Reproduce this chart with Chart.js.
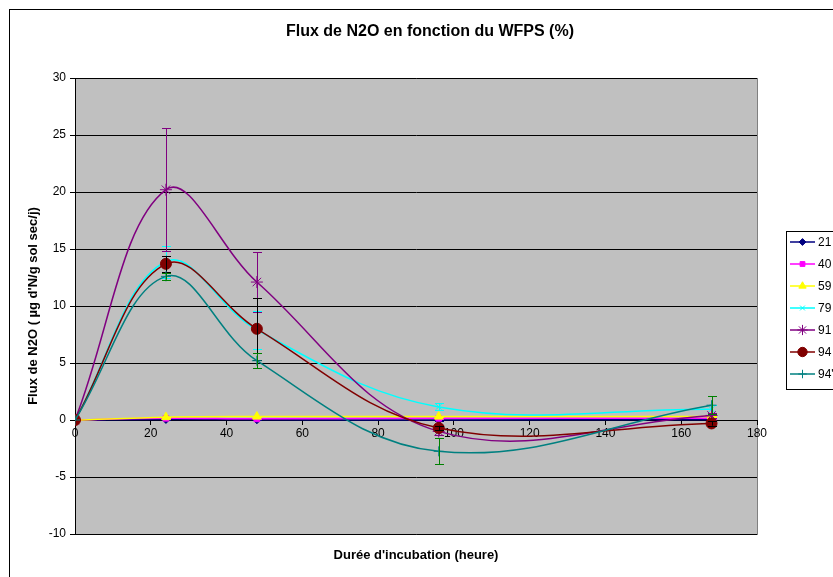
<!DOCTYPE html>
<html>
<head>
<meta charset="utf-8">
<title>Flux de N2O en fonction du WFPS (%)</title>
<script src="https://cdn.jsdelivr.net/npm/chart.js@4.4.1/dist/chart.umd.min.js"></script>
<style>
  html, body { margin: 0; padding: 0; background: #ffffff; }
  #wrap { width: 833px; height: 577px; }
</style>
</head>
<body>
<div id="wrap"><canvas id="c" width="833" height="577"></canvas></div>
<script>
// Sampling times (hours of incubation)
const hours = [0, 24, 48, 96, 168];

// WFPS treatments (%)
const seriesNames = ['21', '40', '59', '79', '91', '94', "94'"];

// Mean N2O flux (µg N/g dry soil/day) per treatment
const flux21 = [0, 0.05, 0.02, 0.0, 0.03];
const flux40 = [0, 0.15, 0.1, 0.15, 0.15];
const flux59 = [0, 0.25, 0.3, 0.3, 0.3];
const flux79 = [0, 13.9, 7.9, 1.15, 0.95];
const flux91 = [0, 20.2, 12.1, -1.0, 0.4];
const flux94 = [0, 13.7, 8.0, -0.7, -0.3];
const flux94b = [0, 12.6, 5.2, -2.75, 1.3];

// Standard error (±) per treatment
const err21 = [0, 0.05, 0.05, 0.05, 0.05];
const err40 = [0, 0.05, 0.05, 0.05, 0.05];
const err59 = [0, 0.05, 0.05, 0.05, 0.05];
const err79 = [0, 1.4, 1.7, 0.3, 0.35];
const err91 = [0, 5.4, 2.6, 0.3, 0.2];
const err94 = [0, 0.7, 2.7, 0.2, 0.2];
const err94b = [0, 0.3, 0.65, 1.15, 0.8];

// Axis ticks
const xTicks = [0, 20, 40, 60, 80, 100, 120, 140, 160, 180];
const yTicks = [-10, -5, 0, 5, 10, 15, 20, 25, 30];

const FONT = '"Liberation Sans", Arial, sans-serif';

const styles = [
  { color: '#000080', err: '#000080', point: 'rectRot', radius: 4 },
  { color: '#FF00FF', err: '#FF00FF', point: 'rect', radius: 4 },
  { color: '#FFFF00', err: '#FFFF00', point: 'triangle', radius: 5 },
  { color: '#00FFFF', err: '#00FFFF', point: 'crossRot', radius: 4 },
  { color: '#800080', err: '#800080', point: 'star', radius: 6 },
  { color: '#800000', err: '#000000', point: 'circle', radius: 5.5 },
  { color: '#008080', err: '#008000', point: 'cross', radius: 5 }
];

const fluxes = [flux21, flux40, flux59, flux79, flux91, flux94, flux94b];
const errors = [err21, err40, err59, err79, err91, err94, err94b];

const datasets = seriesNames.map((name, i) => ({
  label: name,
  data: hours.map((h, j) => ({ x: h, y: fluxes[i][j] })),
  errors: errors[i],
  errColor: styles[i].err,
  borderColor: styles[i].color,
  backgroundColor: styles[i].color,
  pointBackgroundColor: styles[i].color,
  pointBorderColor: styles[i].color,
  pointStyle: styles[i].point,
  pointRadius: styles[i].radius,
  pointBorderWidth: 1,
  borderWidth: 1.5,
  tension: 0.38,
  fill: false,
  order: seriesNames.length - 1 - i
}));

// Grey plot area and outer frame
const backdrop = {
  id: 'backdrop',
  beforeDraw(chart) {
    const { ctx, chartArea: a } = chart;
    ctx.save();
    ctx.fillStyle = '#ffffff';
    ctx.fillRect(0, 0, chart.width, chart.height);
    ctx.strokeStyle = '#000000';
    ctx.lineWidth = 1;
    ctx.strokeRect(9.5, 9.5, chart.width + 20, chart.height + 20);
    ctx.fillStyle = '#C0C0C0';
    ctx.fillRect(a.left, a.top, a.right - a.left, a.bottom - a.top);
    ctx.strokeStyle = '#808080';
    ctx.strokeRect(a.left + 0.5, a.top + 0.5, a.right - a.left, a.bottom - a.top);
    ctx.restore();
  }
};

// Vertical error bars drawn with each series
const errorBars = {
  id: 'errorBars',
  afterDatasetDraw(chart, args) {
    const ds = chart.data.datasets[args.index];
    const xs = chart.scales.x, ys = chart.scales.y;
    const ctx = chart.ctx;
    ctx.save();
    ctx.strokeStyle = ds.errColor;
    ctx.lineWidth = 1;
    ds.data.forEach((p, j) => {
      const e = ds.errors[j];
      if (!e) return;
      const x = Math.round(xs.getPixelForValue(p.x)) + 0.5;
      const yTop = ys.getPixelForValue(p.y + e);
      const yBot = ys.getPixelForValue(p.y - e);
      ctx.beginPath();
      ctx.moveTo(x, yTop); ctx.lineTo(x, yBot);
      ctx.moveTo(x - 4.5, Math.round(yTop) + 0.5); ctx.lineTo(x + 4.5, Math.round(yTop) + 0.5);
      ctx.moveTo(x - 4.5, Math.round(yBot) + 0.5); ctx.lineTo(x + 4.5, Math.round(yBot) + 0.5);
      ctx.stroke();
    });
    ctx.restore();
  }
};

// Titles and series key
const annotations = {
  id: 'annotations',
  afterDraw(chart) {
    const { ctx, chartArea: a } = chart;
    ctx.save();
    ctx.fillStyle = '#000000';
    ctx.textAlign = 'center';
    ctx.textBaseline = 'middle';
    ctx.font = 'bold 16px ' + FONT;
    ctx.fillText('Flux de N2O en fonction du WFPS (%)', 430, 32);
    ctx.font = 'bold 13px ' + FONT;
    ctx.fillText("Durée d'incubation (heure)", (a.left + a.right) / 2, 555);
    ctx.save();
    ctx.translate(33, (a.top + a.bottom) / 2);
    ctx.rotate(-Math.PI / 2);
    ctx.fillText("Flux de N2O ( µg d'N/g sol sec/j)", 0, 0);
    ctx.restore();

    // key box
    const lx = 786, ly = 231, rowH = 22;
    ctx.fillStyle = '#ffffff';
    ctx.fillRect(lx, ly, 60, rowH * seriesNames.length + 4);
    ctx.strokeStyle = '#000000';
    ctx.lineWidth = 1;
    ctx.strokeRect(lx + 0.5, ly + 0.5, 60, rowH * seriesNames.length + 4);
    ctx.font = '12px ' + FONT;
    ctx.textAlign = 'left';
    seriesNames.forEach((name, i) => {
      const y = ly + 11 + i * rowH;
      const st = styles[i];
      ctx.strokeStyle = st.color;
      ctx.lineWidth = 1.5;
      ctx.beginPath();
      ctx.moveTo(790, y); ctx.lineTo(815, y);
      ctx.stroke();
      ctx.lineWidth = 1;
      ctx.fillStyle = st.color;
      Chart.helpers.drawPoint(ctx, { pointStyle: st.point, radius: st.radius * 0.85, rotation: 0, borderWidth: 1 }, 802.5, y);
      ctx.fillStyle = '#000000';
      ctx.fillText(name, 818, y + 1);
    });
    ctx.restore();
  }
};

new Chart(document.getElementById('c'), {
  type: 'line',
  data: { datasets },
  plugins: [backdrop, errorBars, annotations],
  options: {
    responsive: false,
    animation: false,
    devicePixelRatio: 1,
    layout: { padding: { left: 0, top: 78, right: 76, bottom: 43 } },
    plugins: {
      legend: { display: false },
      title: { display: false },
      tooltip: { enabled: false }
    },
    scales: {
      x: {
        type: 'linear',
        min: 0,
        max: 180,
        position: { y: 0 },
        afterBuildTicks(scale) { scale.ticks = xTicks.map(v => ({ value: v })); },
        ticks: { color: '#000000', font: { family: FONT, size: 12 }, padding: 2, maxRotation: 0, autoSkip: false },
        grid: { drawOnChartArea: false, drawTicks: true, tickLength: 4, color: '#000000', lineWidth: 1 },
        border: { color: '#000000', width: 1 }
      },
      y: {
        type: 'linear',
        min: -10,
        max: 30,
        afterBuildTicks(scale) { scale.ticks = yTicks.map(v => ({ value: v })); },
        afterFit(scale) { scale.width = 75; },
        ticks: { color: '#000000', font: { family: FONT, size: 12 }, padding: 4 },
        grid: { drawOnChartArea: true, drawTicks: true, tickLength: 5, color: '#000000', lineWidth: 1 },
        border: { color: '#000000', width: 1 }
      }
    }
  }
});
</script>
</body>
</html>
